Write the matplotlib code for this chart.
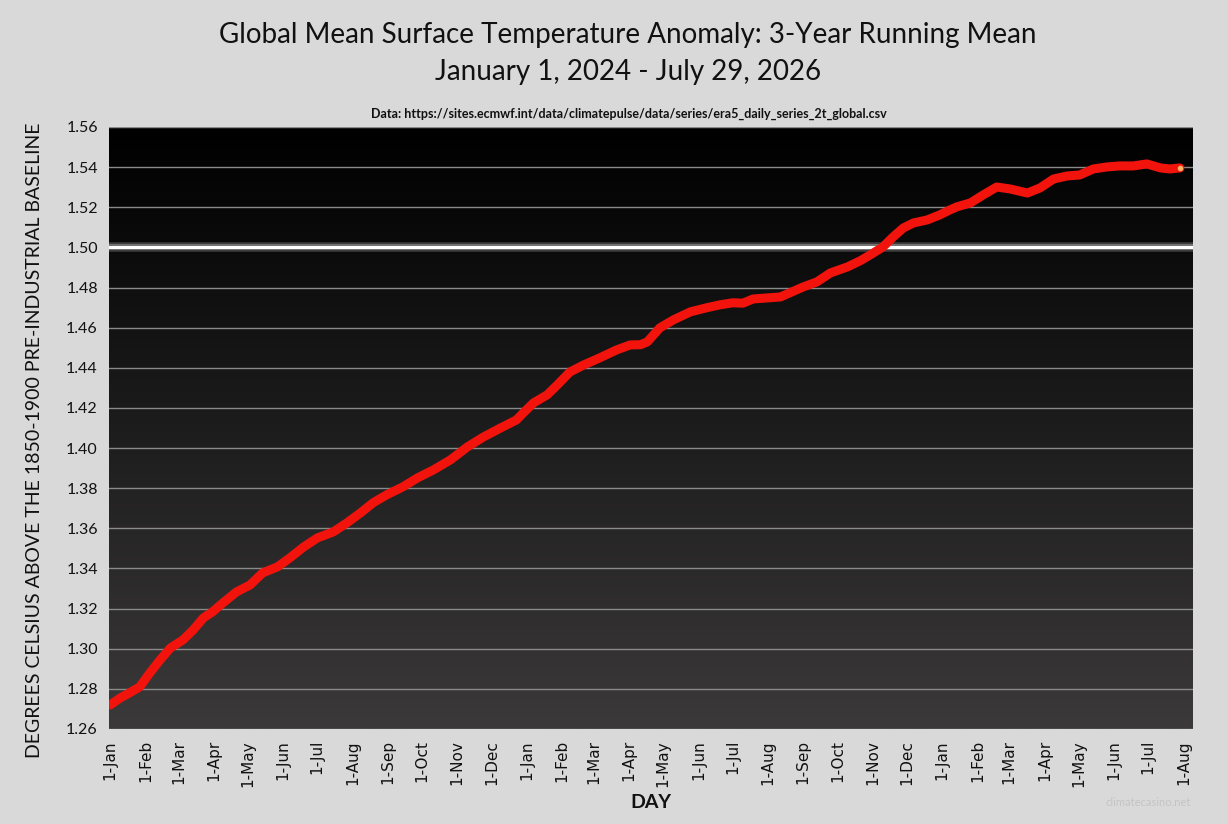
import datetime as dt
import numpy as np
import matplotlib
matplotlib.use('Agg')
import matplotlib.pyplot as plt
from matplotlib.colors import LinearSegmentedColormap

# days since 1 Jan 2024 and 3-year running mean anomaly (deg C)
day = [0, 9, 17, 26, 35, 44, 53, 64, 73, 82, 90, 99, 111, 123, 134, 147, 158,
       170, 182, 196, 208, 220, 231, 243, 257, 270, 284, 299, 314, 328, 343,
       357, 363, 372, 384, 393, 404, 416, 430, 445, 457, 466, 472, 483, 495,
       510, 524, 536, 547, 556, 565, 577, 589, 597, 609, 621, 633, 648, 659,
       668, 679, 688, 697, 706, 718, 729, 738, 744, 756, 767, 779, 791, 806,
       817, 829, 841, 852, 864, 876, 887, 899, 911, 923, 931, 940]
anom = [1.2720, 1.2755, 1.2780, 1.2810, 1.2880, 1.2945, 1.3004, 1.3044, 1.3094,
        1.3154, 1.3184, 1.3228, 1.3283, 1.3318, 1.3378, 1.3408, 1.3453, 1.3507,
        1.3552, 1.3582, 1.3627, 1.3677, 1.3727, 1.3767, 1.3806, 1.3851, 1.3891,
        1.3941, 1.4006, 1.4055, 1.4100, 1.4140, 1.4175, 1.4225, 1.4265, 1.4315,
        1.4379, 1.4414, 1.4449, 1.4489, 1.4514, 1.4515, 1.4529, 1.4599, 1.4639,
        1.4679, 1.4699, 1.4714, 1.4724, 1.4722, 1.4743, 1.4748, 1.4753, 1.4773,
        1.4803, 1.4828, 1.4873, 1.4903, 1.4933, 1.4963, 1.5002, 1.5052, 1.5097,
        1.5122, 1.5137, 1.5162, 1.5187, 1.5202, 1.5222, 1.5261, 1.5301, 1.5291,
        1.5271, 1.5296, 1.5341, 1.5356, 1.5361, 1.5391, 1.5401, 1.5406, 1.5406,
        1.5416, 1.5396, 1.5391, 1.5396]

yticks = [1.26, 1.28, 1.30, 1.32, 1.34, 1.36, 1.38, 1.40, 1.42, 1.44, 1.46,
          1.48, 1.50, 1.52, 1.54, 1.56]
threshold = 1.50

start = dt.date(2024, 1, 1)
month_starts = []
for y in (2024, 2025, 2026):
    for m in range(1, 13):
        if y == 2026 and m > 8:
            break
        month_starts.append(dt.date(y, m, 1))
tick_pos = [(d - start).days for d in month_starts]
tick_lbl = ['1-' + d.strftime('%b') for d in month_starts]

title_font = ['Lato', 'DejaVu Sans']

fig = plt.figure(figsize=(12.28, 8.24), dpi=100)
fig.patch.set_facecolor('#d9d9d9')
pos = [109 / 1228, 1 - 729 / 824, 1084 / 1228, 602 / 824]

# gradient background behind the plot
bg = fig.add_axes(pos, zorder=0)
cmap = LinearSegmentedColormap.from_list('bg', ['#000000', '#3b3939'])
grad = np.linspace(0, 1, 256).reshape(-1, 1)
bg.imshow(grad, cmap=cmap, aspect='auto', extent=[0, 1, 0, 1])
bg.axis('off')

ax = fig.add_axes(pos, zorder=1)
ax.set_facecolor('none')
for s in ax.spines.values():
    s.set_visible(False)

for yt in yticks:
    if yt == threshold:
        continue
    ax.axhline(yt, color='#8a8a8a', lw=1.0, zorder=1)
# glowing 1.5 line
ax.axhline(threshold, color='white', lw=7, alpha=0.18, zorder=2)
ax.axhline(threshold, color='white', lw=4.5, alpha=0.3, zorder=2)
ax.axhline(threshold, color='white', lw=2.2, zorder=2)

ax.plot(day, anom, color='#f2140c', lw=6.5, solid_capstyle='round',
        solid_joinstyle='round', zorder=3)
ax.plot(day[-1], anom[-1], 'o', color='#ffb060', ms=3, zorder=4)

ax.set_xlim(-1, 951.5)
ax.set_ylim(1.26, 1.56)
ax.set_yticks(yticks)
ax.set_yticklabels(['%.2f' % v for v in yticks], fontsize=11.5, family=title_font)
ax.set_xticks(tick_pos)
ax.set_xticklabels(tick_lbl, rotation=90, fontsize=11, family='DejaVu Sans')
ax.tick_params(length=0, pad=8, colors='#111111')
ax.tick_params(axis='x', pad=8)

fig.text(0.5115, 1 - 35 / 824, 'Global Mean Surface Temperature Anomaly: 3-Year Running Mean',
         ha='center', va='center', fontsize=20, family=title_font, color='#111111')
fig.text(0.5115, 1 - 72 / 824, 'January 1, 2024 - July 29, 2026',
         ha='center', va='center', fontsize=20, family=title_font, color='#111111')
fig.text(0.512, 1 - 114 / 824,
         'Data: https://sites.ecmwf.int/data/climatepulse/data/series/era5_daily_series_2t_global.csv',
         ha='center', va='center', fontsize=9, fontweight='bold', family=title_font,
         color='#111111')
fig.text(35 / 1228, 1 - 440 / 824,
         'DEGREES CELSIUS ABOVE THE 1850-1900 PRE-INDUSTRIAL BASELINE',
         ha='center', va='center', rotation=90, fontsize=14, family=title_font,
         color='#111111')
fig.text(651 / 1228, 1 - 803 / 824, 'DAY', ha='center', va='center', fontsize=14,
         fontweight='bold', family=title_font, color='#111111')
fig.text(1148 / 1228, 1 - 803 / 824, 'climatecasino.net', ha='center', va='center',
         fontsize=8, family=title_font, color='#c4c4c4')

fig.savefig('out.png', dpi=100, facecolor=fig.get_facecolor())
